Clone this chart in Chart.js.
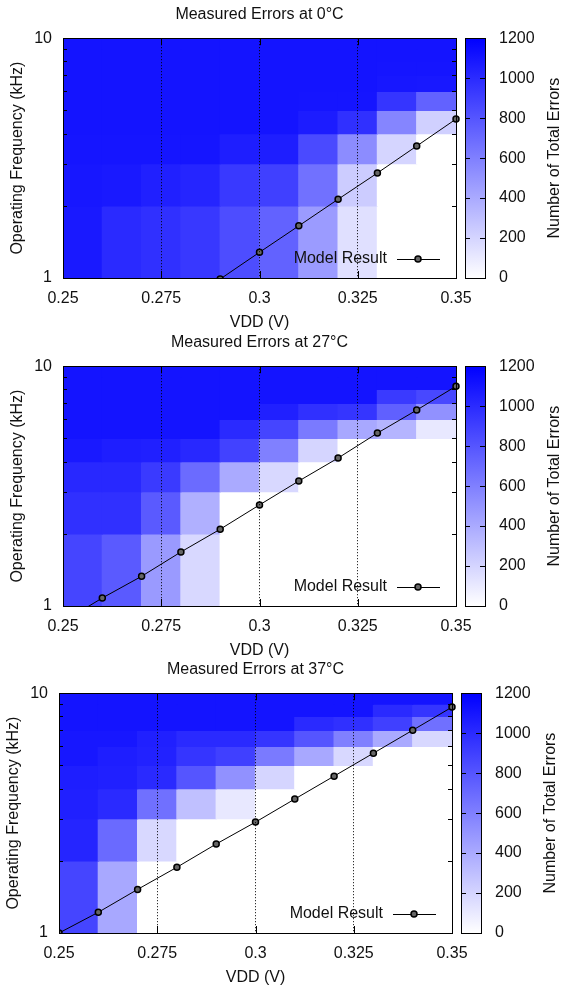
<!DOCTYPE html>
<html>
<head>
<meta charset="utf-8">
<title>Measured Errors</title>
<script src="https://cdn.jsdelivr.net/npm/chart.js@4.4.1/dist/chart.umd.min.js"></script>
<style>
  html, body { margin: 0; padding: 0; background: #fff; }
  #page { position: relative; width: 566px; height: 992px; overflow: hidden; }
  #page canvas { position: absolute; }
</style>
</head>
<body>
<div id="page">
  <canvas id="c0" width="566" height="332" style="left:0;top:0"></canvas>
  <canvas id="c27" width="566" height="332" style="left:0;top:328px"></canvas>
  <canvas id="c37" width="566" height="332" style="left:-4px;top:655px"></canvas>
</div>
<script>
// cell edges: supply voltage (V) and operating frequency (kHz)
const vddEdges = [0.25, 0.26, 0.27, 0.28, 0.29, 0.30, 0.31, 0.32, 0.33, 0.34, 0.35];
const freqEdges = [1, 2, 3, 4, 5, 6, 7, 8, 9, 10];

const vddTicks = [0.25, 0.275, 0.3, 0.325, 0.35];
const freqTicks = [1, 2, 3, 4, 5, 6, 7, 8, 9, 10];
const errorTicks = [0, 200, 400, 600, 800, 1000, 1200];

// error counts, first row = 1-2 kHz, last row = 9-10 kHz, one column per voltage bin
const errors0C = [
  [1080, 1000, 975, 935, 840, 740, 470, 145, 0, 0],
  [1090, 1080, 1050, 1025, 930, 900, 670, 240, 0, 0],
  [1100, 1100, 1100, 1100, 1060, 1060, 850, 540, 200, 0],
  [1106, 1106, 1106, 1106, 1106, 1106, 1070, 975, 575, 220],
  [1106, 1106, 1106, 1106, 1106, 1106, 1100, 1100, 950, 740],
  [1106, 1106, 1106, 1106, 1106, 1106, 1106, 1106, 1090, 1085],
  [1106, 1106, 1106, 1106, 1106, 1106, 1106, 1106, 1100, 1100],
  [1106, 1106, 1106, 1106, 1106, 1106, 1106, 1106, 1106, 1106],
  [1106, 1106, 1106, 1106, 1106, 1106, 1106, 1106, 1106, 1106]
];
const errors27C = [
  [875, 775, 475, 185, 0, 0, 0, 0, 0, 0],
  [975, 975, 775, 370, 0, 0, 0, 0, 0, 0],
  [1010, 1010, 925, 695, 400, 185, 0, 0, 0, 0],
  [1080, 1060, 1050, 1010, 890, 600, 200, 0, 0, 0],
  [1106, 1106, 1106, 1106, 1000, 875, 625, 410, 350, 110],
  [1106, 1106, 1106, 1106, 1106, 1050, 975, 950, 750, 520],
  [1106, 1106, 1106, 1106, 1106, 1106, 1106, 1106, 925, 860],
  [1106, 1106, 1106, 1106, 1106, 1106, 1106, 1106, 1106, 1106],
  [1106, 1106, 1106, 1106, 1106, 1106, 1106, 1106, 1106, 1106]
];
const errors37C = [
  [875, 410, 0, 0, 0, 0, 0, 0, 0, 0],
  [1025, 700, 185, 0, 0, 0, 0, 0, 0, 0],
  [1050, 1000, 675, 295, 110, 0, 0, 0, 0, 0],
  [1060, 1050, 1000, 800, 520, 200, 0, 0, 0, 0],
  [1090, 1060, 1040, 950, 900, 625, 410, 185, 0, 0],
  [1090, 1090, 1050, 1000, 1000, 950, 800, 600, 400, 185],
  [1106, 1106, 1106, 1106, 1106, 1106, 1000, 975, 900, 675],
  [1106, 1106, 1106, 1106, 1106, 1106, 1106, 1106, 1000, 950],
  [1106, 1106, 1106, 1106, 1106, 1106, 1106, 1106, 1106, 1106]
];

// model prediction of the failing frequency (kHz)
const modelVdd0C = [0.29, 0.30, 0.31, 0.32, 0.33, 0.34, 0.35];
const model0C = [0.99, 1.28, 1.65, 2.13, 2.74, 3.55, 4.6];
const modelVdd27C = [0.25, 0.26, 0.27, 0.28, 0.29, 0.30, 0.31, 0.32, 0.33, 0.34, 0.35];
const model27C = [0.86, 1.08, 1.33, 1.68, 2.09, 2.64, 3.32, 4.14, 5.26, 6.56, 8.25];
const modelVdd37C = [0.25, 0.26, 0.27, 0.28, 0.29, 0.30, 0.31, 0.32, 0.33, 0.34, 0.35];
const model37C = [1.0, 1.22, 1.52, 1.88, 2.35, 2.90, 3.62, 4.51, 5.62, 7.01, 8.75];

const ERR_MAX = 1200;
const FONT = "'Liberation Sans', Arial, Helvetica, sans-serif";

Chart.defaults.font.family = FONT;
Chart.defaults.font.size = 16;
Chart.defaults.color = '#111';

// white -> blue palette
function errorColour(v) {
  const k = Math.round(255 * (1 - Math.min(v, ERR_MAX) / ERR_MAX));
  return 'rgb(' + k + ',' + k + ',255)';
}

function cellsFrom(counts) {
  const cells = [];
  counts.forEach((row, r) => {
    row.forEach((v, c) => {
      cells.push({
        x: (vddEdges[c] + vddEdges[c + 1]) / 2,
        y: [freqEdges[r], freqEdges[r + 1]],
        v: v
      });
    });
  });
  return cells;
}

function drawMarker(ctx, x, y) {
  ctx.beginPath();
  ctx.arc(x, y, 3, 0, Math.PI * 2);
  ctx.fillStyle = '#666';
  ctx.fill();
  ctx.lineWidth = 1.5;
  ctx.strokeStyle = '#000';
  ctx.stroke();
}

// frame, inward tick marks, colour box and key
const decorations = {
  id: 'decorations',
  afterDraw(chart) {
    const { ctx, chartArea: a, scales } = chart;
    const xs = scales.x, ys = scales.y, cb = scales.cb;
    ctx.save();
    ctx.strokeStyle = '#000';
    ctx.lineWidth = 1;

    ctx.beginPath();
    vddTicks.slice(1, -1).forEach(v => {
      const px = Math.round(xs.getPixelForValue(v)) + 0.5;
      ctx.moveTo(px, a.bottom); ctx.lineTo(px, a.bottom - 7);
      ctx.moveTo(px, a.top); ctx.lineTo(px, a.top + 7);
    });
    freqTicks.slice(1, -1).forEach(f => {
      const py = Math.round(ys.getPixelForValue(f)) + 0.5;
      ctx.moveTo(a.left, py); ctx.lineTo(a.left + 4, py);
      ctx.moveTo(a.right, py); ctx.lineTo(a.right - 4, py);
    });
    ctx.stroke();
    ctx.strokeRect(Math.round(a.left) + 0.5, Math.round(a.top) + 0.5,
      Math.round(a.right - a.left), Math.round(a.bottom - a.top));

    // colour box
    const bx = Math.round(a.right) + 9, bw = 20;
    const top = cb.getPixelForValue(ERR_MAX), bot = cb.getPixelForValue(0);
    const grad = ctx.createLinearGradient(0, bot, 0, top);
    grad.addColorStop(0, errorColour(0));
    grad.addColorStop(1, errorColour(ERR_MAX));
    ctx.fillStyle = grad;
    ctx.fillRect(bx, top, bw, bot - top);
    ctx.strokeRect(bx + 0.5, Math.round(top) + 0.5, bw, Math.round(bot - top));
    ctx.beginPath();
    errorTicks.slice(1, -1).forEach(v => {
      const py = Math.round(cb.getPixelForValue(v)) + 0.5;
      ctx.moveTo(bx, py); ctx.lineTo(bx + 5, py);
      ctx.moveTo(bx + bw, py); ctx.lineTo(bx + bw - 5, py);
    });
    ctx.stroke();

    ctx.fillStyle = '#111';
    ctx.font = '16px ' + FONT;
    ctx.save();
    ctx.translate(a.right + 99, (a.top + a.bottom) / 2);
    ctx.rotate(-Math.PI / 2);
    ctx.textAlign = 'center';
    ctx.textBaseline = 'middle';
    ctx.fillText('Number of Total Errors', 0, 0);
    ctx.restore();

    // key
    const ky = a.bottom - 19;
    ctx.textAlign = 'right';
    ctx.textBaseline = 'middle';
    ctx.fillText('Model Result', a.right - 69, ky);
    ctx.beginPath();
    ctx.moveTo(a.right - 59, ky + 0.5);
    ctx.lineTo(a.right - 16, ky + 0.5);
    ctx.lineWidth = 1;
    ctx.stroke();
    drawMarker(ctx, a.right - 38, ky);
    ctx.restore();
  }
};

function makeChart(id, title, counts, modelVdd, modelVals) {
  const model = modelVdd.map((v, i) => ({ x: v, y: modelVals[i] }));
  return new Chart(document.getElementById(id), {
    type: 'bar',
    data: {
      datasets: [
        {
          type: 'line',
          data: model,
          borderColor: '#000',
          borderWidth: 1,
          pointRadius: 3,
          pointBorderWidth: 1.5,
          pointBorderColor: '#000',
          pointBackgroundColor: '#666',
          tension: 0,
          clip: { left: 0, top: 6, right: 6, bottom: 0 },
          order: 0
        },
        {
          type: 'bar',
          data: cellsFrom(counts),
          backgroundColor: c => errorColour(c.raw ? c.raw.v : 0),
          borderWidth: 0,
          barPercentage: 1,
          categoryPercentage: 1,
          inflateAmount: 0.6,
          order: 1
        }
      ]
    },
    options: {
      responsive: false,
      animation: false,
      devicePixelRatio: 1,
      events: [],
      layout: { padding: 0, autoPadding: false },
      plugins: {
        legend: { display: false },
        tooltip: { enabled: false },
        title: {
          display: true,
          text: title,
          fullSize: false,
          color: '#111',
          font: { size: 16, weight: 'normal' },
          padding: { top: 5, bottom: 14 }
        }
      },
      scales: {
        x: {
          type: 'linear',
          min: 0.25,
          max: 0.35,
          offset: false,
          afterBuildTicks: s => { s.ticks = vddTicks.map(v => ({ value: v })); },
          afterFit: s => { s.height = 54; },
          ticks: { padding: 11, autoSkip: false, maxRotation: 0, callback: v => String(v) },
          grid: { color: '#000', lineWidth: 1, drawTicks: false, offset: false, z: 1 },
          border: { display: false, dash: [1, 2] },
          title: { display: true, text: 'VDD (V)', padding: 0 }
        },
        y: {
          type: 'logarithmic',
          position: 'left',
          min: 1,
          max: 10,
          afterBuildTicks: s => { s.ticks = freqTicks.map(v => ({ value: v })); },
          afterFit: s => { s.width = 63; },
          ticks: { padding: 11, autoSkip: false, callback: v => (v === 1 || v === 10) ? String(v) : '' },
          grid: { display: false, drawTicks: false },
          border: { display: false },
          title: { display: true, text: 'Operating Frequency (kHz)', padding: { top: 8, bottom: 0 } }
        },
        cb: {
          type: 'linear',
          axis: 'y',
          position: 'right',
          min: 0,
          max: ERR_MAX,
          afterBuildTicks: s => { s.ticks = errorTicks.map(v => ({ value: v })); },
          afterFit: s => { s.width = 110; },
          // transparent tick marks push the labels past the colour box
          ticks: { padding: 3, autoSkip: false, callback: v => String(v) },
          grid: { display: true, drawOnChartArea: false, drawTicks: true, tickLength: 40, tickColor: 'rgba(0,0,0,0)' },
          border: { display: false }
        }
      }
    },
    plugins: [decorations]
  });
}

makeChart('c0', 'Measured Errors at 0°C', errors0C, modelVdd0C, model0C);
makeChart('c27', 'Measured Errors at 27°C', errors27C, modelVdd27C, model27C);
makeChart('c37', 'Measured Errors at 37°C', errors37C, modelVdd37C, model37C);
</script>
</body>
</html>
